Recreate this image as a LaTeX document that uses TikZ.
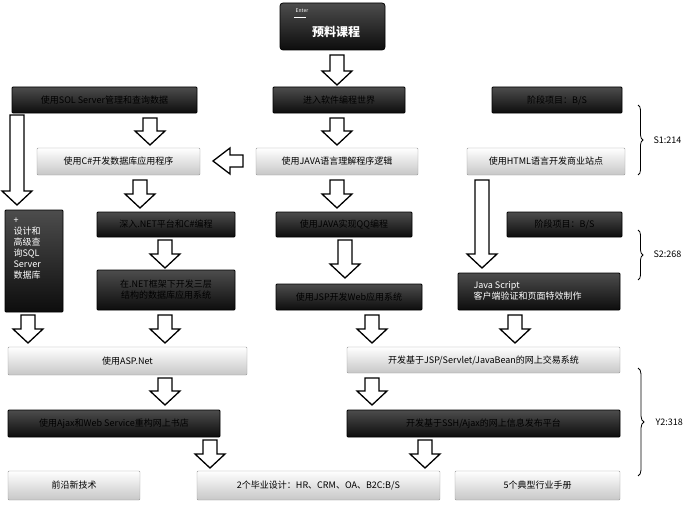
\documentclass[tikz,border=0pt]{standalone}
\usepackage{fontspec}
\setmainfont{Noto Sans CJK SC}
\usetikzlibrary{decorations.pathreplacing}
\begin{document}
\begin{tikzpicture}[x=1pt,y=-1pt,
 dk/.style={draw=black,line width=0.8pt,top color=black!70,bottom color=black!95,text=white,font=\fontsize{9}{11}\selectfont,rounded corners=1pt},
 lt/.style={draw=black!40,top color=white,bottom color=black!22,text=black,font=\fontsize{9}{11}\selectfont,rounded corners=1pt},
 har/.style={draw=black,line width=1.3pt,fill=white,line join=miter}]
\useasboundingbox (0,0) rectangle (700,516);
\newcommand\bx[6]{\path[#1] (#2,#3) rectangle (#4,#5) node[midway,align=center,text=\ifx#1dk white\else black\fi] {#6};}
\newcommand\darr[3]{\draw[har] (#1-7,#2) -- (#1+7,#2) -- (#1+7,#3-14) -- (#1+15,#3-14) -- (#1,#3) -- (#1-15,#3-14) -- (#1-7,#3-14) -- cycle;}
% top
\path[dk,rounded corners=3pt] (280,3) rectangle (385,50);
\node[text=white,font=\tiny] (ent) at (302,11) {Enter};
\draw[white] (294,17)--(306,17);
\node[text=white,font=\bfseries\fontsize{12}{14}\selectfont] (pre) at (336,32) {预料课程};
\bx{dk}{12}{87}{197}{113}{使用SOL Server管理和查询数据}
\bx{dk}{273}{87}{405}{113}{进入软件编程世界}
\bx{dk}{492}{87}{622}{113}{阶段项目：B/S}
\bx{lt}{37}{148}{200}{175}{使用C\#开发数据库应用程序}
\bx{lt}{256}{148}{418}{175}{使用JAVA语言理解程序逻辑}
\bx{lt}{467}{148}{625}{175}{使用HTML语言开发商业站点}
\bx{dk}{97}{212}{235}{237}{深入.NET平台和C\#编程}
\bx{dk}{276}{212}{412}{237}{使用JAVA实现QQ编程}
\bx{dk}{507}{212}{622}{237}{阶段项目：B/S}
\path[dk] (5,210) rectangle (63,312);
\node[text=white,font=\fontsize{9}{11}\selectfont,align=left,anchor=north west] (sql) at (10,214) {+\\设计和\\高级查\\询SQL\\Server\\数据库};
\bx{dk}{97}{270}{235}{310}{在.NET框架下开发三层\\结构的数据库应用系统}
\bx{dk}{276}{284}{422}{310}{使用JSP开发Web应用系统}
\path[dk] (458,273) rectangle (620,310);
\node[text=white,font=\fontsize{9}{11}\selectfont,align=left,anchor=west] (js) at (470,291) {Java Script\\客户端验证和页面特效制作};
\bx{lt}{8}{347}{247}{375}{使用ASP.Net}
\bx{lt}{347}{347}{620}{373}{开发基于JSP/Servlet/JavaBean的网上交易系统}
\bx{dk}{8}{410}{220}{437}{使用Ajax和Web Service重构网上书店}
\bx{dk}{347}{410}{620}{437}{开发基于SSH/Ajax的网上信息发布平台}
\bx{lt}{8}{471}{140}{500}{前沿新技术}
\bx{lt}{197}{471}{440}{500}{2个毕业设计：HR、CRM、OA、B2C:B/S}
\bx{lt}{455}{471}{620}{500}{5个典型行业手册}
% arrows
\darr{337}{55}{85}
\darr{150}{118}{145}
\darr{337}{118}{145}
\draw[har] (243,155) -- (230,155) -- (230,148) -- (213,161) -- (230,174) -- (230,167) -- (243,167) -- cycle;
\darr{140}{180}{208}
\darr{337}{180}{208}
\darr{165}{240}{268}
\darr{345}{240}{278}
\darr{17}{115}{205}
\darr{482}{180}{268}
\darr{28}{315}{343}
\darr{165}{315}{343}
\darr{372}{315}{343}
\darr{515}{315}{343}
\darr{165}{378}{405}
\darr{372}{378}{405}
\darr{210}{440}{468}
\darr{425}{440}{468}
% braces
\draw[decorate,decoration={brace,amplitude=5pt},line width=0.8pt] (638,105) -- (638,175);
\node[font=\fontsize{9}{11}\selectfont,anchor=west] (s1) at (650,140) {S1:214};
\draw[decorate,decoration={brace,amplitude=5pt},line width=0.8pt] (638,230) -- (638,280);
\node[font=\fontsize{9}{11}\selectfont,anchor=west] (s2) at (650,254) {S2:268};
\draw[decorate,decoration={brace,amplitude=6pt},line width=0.8pt] (638,368) -- (638,476);
\node[font=\fontsize{9}{11}\selectfont,anchor=west] (y2) at (652,422) {Y2:318};
\end{tikzpicture}
\end{document}
